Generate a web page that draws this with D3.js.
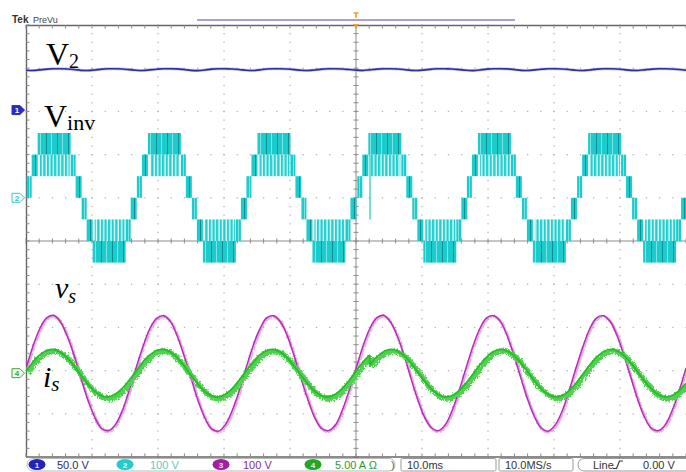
<!DOCTYPE html>
<html>
<head>
<meta charset="utf-8">
<script src="https://cdn.jsdelivr.net/npm/d3@7"></script>
<style>
  html, body { margin: 0; padding: 0; background: #fff; }
  svg { display: block; }
</style>
</head>
<body>
<svg id="scope" width="686" height="472"></svg>
<script>
// ---------------- acquisition settings ----------------
const timeWindowMs = [-50, 50];          // 10 ms/div, 10 divisions, trigger at centre
const sampleStepMs = 100 / 96;           // record interval of the analog traces

// channel settings: vertical scale (units/div) and position (div)
const channelIds     = ["1", "2", "3", "4"];
const channelScales  = [50, 100, 100, 5];
const channelOffsets = [3.03, 1.0, -3.06, -3.06];
const channelReadout = ["50.0 V", "100 V", "100 V", "5.00 A \u03A9"];

// ---------------- CH1: dc-link voltage V2 (V) ----------------
const v2Samples = [
  46.1, 45.8, 46.6, 47.4, 47.8, 47.8, 47.6, 47.0,
  46.0, 45.8, 46.5, 47.4, 47.8, 47.9, 47.6, 46.9,
  46.1, 45.9, 46.6, 47.3, 47.8, 47.8, 47.7, 47.0,
  46.0, 45.7, 46.5, 47.4, 47.9, 47.8, 47.6, 47.0,
  46.1, 45.8, 46.6, 47.5, 47.8, 47.8, 47.5, 46.9,
  46.1, 45.8, 46.5, 47.4, 47.8, 47.9, 47.6, 47.0,
  46.3, 45.9, 46.6, 47.4, 47.8, 47.8, 47.6, 47.0,
  46.0, 45.8, 46.6, 47.4, 47.9, 47.8, 47.6, 46.9,
  46.1, 45.7, 46.5, 47.4, 47.8, 47.8, 47.7, 47.0,
  46.0, 45.8, 46.6, 47.3, 47.8, 47.9, 47.6, 47.0,
  46.1, 45.8, 46.5, 47.4, 47.8, 47.8, 47.6, 46.9,
  46.0, 45.9, 46.6, 47.4, 47.8, 47.8, 47.6, 47.0,
  46.1
];

// ---------------- CH3: grid voltage vs (V) ----------------
const vsSamples = [
  11, 62, 103, 128, 134, 119, 86, 41, -12, -62, -102, -128, -133, -119, -87, -40,
  12, 61, 103, 127, 133, 120, 86, 40, -11, -62, -103, -129, -134, -119, -86, -41,
  12, 62, 102, 128, 133, 119, 87, 40, -12, -61, -103, -128, -133, -120, -86, -40,
  11, 62, 103, 128, 134, 119, 86, 41, -12, -62, -103, -127, -133, -119, -86, -40,
  12, 62, 103, 128, 133, 120, 86, 40, -12, -62, -102, -128, -134, -119, -87, -40,
  12, 61, 103, 128, 133, 119, 86, 40, -11, -62, -103, -128, -133, -119, -86, -41,
  12
];

// ---------------- CH4: grid current is (A) ----------------
// previous record (left part of the screen, up to the update point)
const isPrevious = [
  0.24, 1.27, 2.11, 2.62, 2.74, 2.44, 1.77, 0.83, -0.24, -1.27, -2.11, -2.62, -2.74, -2.44, -1.77, -0.83,
  0.22, 1.28, 2.10, 2.63, 2.76, 2.45, 1.76, 0.84, -0.25, -1.26, -2.12, -2.63, -2.75, -2.43, -1.78, -0.82,
  0.24, 1.26, 2.11, 2.61, 2.74, 2.44, 1.78, 0.83, -0.23, -1.27, -2.10, -2.62, -2.76, -2.44, -1.77, -0.84,
  0.24, 1.27, 2.11
];
// new record (from the update point to the right edge)
const isLatest = [
  0.94, 1.86, 2.49, 2.75, 2.58, 2.03, 1.16, 0.12, -0.94, -1.86, -2.49, -2.75, -2.58, -2.03, -1.16, -0.12,
  0.95, 1.85, 2.50, 2.76, 2.57, 2.04, 1.15, 0.13, -0.93, -1.87, -2.48, -2.74, -2.59, -2.02, -1.17, -0.11,
  0.94, 1.86, 2.49, 2.75, 2.58, 2.03, 1.16, 0.12, -0.94, -1.86, -2.49, -2.75, -2.58, -2.03, -1.16
];
const isUpdateIndex = 50;   // sample where the new record starts

// ---------------- CH2: 7-level inverter voltage Vinv (V) ----------------
// rising zero crossings of each fundamental cycle (ms)
const vinvCycleStarts = [-49.9, -33.2, -16.6, 0.2, 16.8, 33.5];
// switching bands within one cycle, times relative to the zero crossing (ms)
const vinvBandStart = [0.00, 0.76, 1.67, 1.97, 6.67, 7.42, 8.33, 9.09, 10.00, 10.30, 15.00, 15.76];
const vinvBandEnd   = [0.76, 1.67, 6.67, 6.52, 7.42, 8.33, 9.09, 10.00, 15.00, 14.85, 15.76, 16.67];
const vinvBandLow   = [0, 50, 100, 50, 50, 0, -50, -100, -150, -100, -100, -50];
const vinvBandHigh  = [50, 100, 150, 100, 100, 50, 0, -50, -100, -50, -50, 0];
const vinvBandKind  = ["pwm", "pwm", "pwm", "notch", "pwm", "pwm", "pwm", "pwm", "pwm", "notch", "pwm", "pwm"];
// single glitch pulse at the screen update point
const vinvSpikeTime = [2.12];
const vinvSpikeFrom = [100];
const vinvSpikeTo   = [-50];

// ---------------- drawing ----------------
const svg = d3.select("#scope");
const plot = { left: 26, right: 686, top: 25, bottom: 457 };

const x = d3.scaleLinear().domain(timeWindowMs).range([plot.left, plot.right]);
const yDiv = d3.scaleLinear().domain([-5, 5]).range([plot.bottom, plot.top]);
const yCh = (ch, v) => yDiv(channelOffsets[ch] + v / channelScales[ch]);
const tOf = i => timeWindowMs[0] + i * sampleStepMs;

const defs = svg.append("defs");
defs.append("clipPath").attr("id", "screen")
  .append("rect")
  .attr("x", plot.left).attr("y", plot.top)
  .attr("width", plot.right - plot.left).attr("height", plot.bottom - plot.top);

// fill textures for the switching bands
const pwm = defs.append("pattern").attr("id", "pwmFill")
  .attr("patternUnits", "userSpaceOnUse").attr("width", 11).attr("height", 10);
pwm.append("rect").attr("width", 11).attr("height", 10).attr("fill", "#1ccccc");
pwm.append("rect").attr("x", 2).attr("width", 1).attr("height", 10).attr("fill", "#0f8f96");
pwm.append("rect").attr("x", 7).attr("width", 0.7).attr("height", 10).attr("fill", "#a8ecec");

const notch = defs.append("pattern").attr("id", "notchFill")
  .attr("patternUnits", "userSpaceOnUse").attr("width", 3.6).attr("height", 10);
notch.append("rect").attr("width", 3.6).attr("height", 10).attr("fill", "#ffffff");
notch.append("rect").attr("width", 2.4).attr("height", 10).attr("fill", "#26cfcf");

// switching-ripple texture for the noisy analog traces
function rippleFilter(id, freq, scale, seed) {
  const f = defs.append("filter").attr("id", id)
    .attr("x", "-5%").attr("y", "-20%").attr("width", "110%").attr("height", "140%");
  f.append("feTurbulence").attr("type", "turbulence").attr("baseFrequency", freq)
    .attr("numOctaves", 1).attr("seed", seed).attr("result", "n");
  f.append("feDisplacementMap").attr("in", "SourceGraphic").attr("in2", "n")
    .attr("scale", scale).attr("xChannelSelector", "R").attr("yChannelSelector", "G");
}
rippleFilter("greenRipple", "0.9 0.35", 5, 3);
rippleFilter("magentaRipple", "0.9 0.35", 2.5, 7);

// ---- graticule ----
const grat = svg.append("g");
const minorT = d3.range(timeWindowMs[0], timeWindowMs[1] + 0.001, 2);
const minorD = d3.range(-5, 5.001, 0.2);
const majorT = d3.range(-40, 41, 10).filter(d => d !== 0);
const majorD = d3.range(-4, 5, 1).filter(d => d !== 0);

majorT.forEach(t => {
  grat.selectAll(null).data(minorD).join("rect")
    .attr("x", x(t) - 0.6).attr("y", d => yDiv(d) - 0.6)
    .attr("width", 1.3).attr("height", 1.3).attr("fill", "#b4b4b4");
});
majorD.forEach(dv => {
  grat.selectAll(null).data(minorT).join("rect")
    .attr("x", t => x(t) - 0.6).attr("y", yDiv(dv) - 0.6)
    .attr("width", 1.3).attr("height", 1.3).attr("fill", "#b4b4b4");
});

// centre cross with minor ticks
grat.append("line").attr("x1", plot.left).attr("x2", plot.right)
  .attr("y1", yDiv(0)).attr("y2", yDiv(0)).attr("stroke", "#8c8c8c");
grat.append("line").attr("x1", x(0)).attr("x2", x(0))
  .attr("y1", plot.top).attr("y2", plot.bottom).attr("stroke", "#8c8c8c");
grat.selectAll(null).data(minorT).join("line")
  .attr("x1", x).attr("x2", x)
  .attr("y1", yDiv(0) - 2.5).attr("y2", yDiv(0) + 2.5).attr("stroke", "#8c8c8c");
grat.selectAll(null).data(minorD).join("line")
  .attr("y1", yDiv).attr("y2", yDiv)
  .attr("x1", x(0) - 2.5).attr("x2", x(0) + 2.5).attr("stroke", "#8c8c8c");

// frame with edge ticks
grat.append("line").attr("x1", plot.left).attr("x2", plot.right)
  .attr("y1", plot.top + 0.5).attr("y2", plot.top + 0.5).attr("stroke", "#666").attr("stroke-width", 1.4);
grat.append("line").attr("x1", plot.left).attr("x2", plot.right)
  .attr("y1", plot.bottom).attr("y2", plot.bottom).attr("stroke", "#666").attr("stroke-width", 1.6);
grat.append("line").attr("x1", plot.left + 0.5).attr("x2", plot.left + 0.5)
  .attr("y1", plot.top).attr("y2", plot.bottom).attr("stroke", "#666").attr("stroke-width", 1.4);
grat.selectAll(null).data(minorT).join("line")
  .attr("x1", x).attr("x2", x)
  .attr("y1", plot.top).attr("y2", plot.top + 3.5).attr("stroke", "#888");
grat.selectAll(null).data(minorT).join("line")
  .attr("x1", x).attr("x2", x)
  .attr("y1", plot.bottom).attr("y2", plot.bottom - 3.5).attr("stroke", "#888");
grat.selectAll(null).data(minorD).join("line")
  .attr("y1", yDiv).attr("y2", yDiv)
  .attr("x1", plot.left).attr("x2", plot.left + 3.5).attr("stroke", "#888");

// ---- traces ----
const traces = svg.append("g").attr("clip-path", "url(#screen)");

// CH2 Vinv switching bands
const vinvRects = [];
vinvCycleStarts.forEach(c => {
  vinvBandStart.forEach((s, i) => {
    vinvRects.push({ t0: c + s, t1: c + vinvBandEnd[i], lo: vinvBandLow[i], hi: vinvBandHigh[i], kind: vinvBandKind[i] });
  });
});
vinvRects.sort((a, b) => (a.kind === "notch" ? 0 : 1) - (b.kind === "notch" ? 0 : 1));
traces.append("g").selectAll("rect").data(vinvRects).join("rect")
  .attr("x", d => x(d.t0))
  .attr("width", d => x(d.t1) - x(d.t0))
  .attr("y", d => yCh(1, d.hi))
  .attr("height", d => yCh(1, d.lo) - yCh(1, d.hi))
  .attr("fill", d => d.kind === "notch" ? "url(#notchFill)" : "url(#pwmFill)");
traces.append("g").selectAll("line").data(vinvSpikeTime).join("line")
  .attr("x1", d => x(d)).attr("x2", d => x(d))
  .attr("y1", (d, i) => yCh(1, vinvSpikeFrom[i]))
  .attr("y2", (d, i) => yCh(1, vinvSpikeTo[i]))
  .attr("stroke", "#1fc8c8").attr("stroke-width", 1.2);

// CH1 V2
const v2Line = d3.line().x((d, i) => x(tOf(i))).y(d => yCh(0, d)).curve(d3.curveMonotoneX);
traces.append("path").datum(v2Samples).attr("d", v2Line)
  .attr("fill", "none").attr("stroke", "#8c8cd8").attr("stroke-width", 3).attr("opacity", 0.5);
traces.append("path").datum(v2Samples).attr("d", v2Line)
  .attr("fill", "none").attr("stroke", "#2f2fa0").attr("stroke-width", 1.6);

// CH3 vs
const vsLine = d3.line().x((d, i) => x(tOf(i))).y(d => yCh(2, d)).curve(d3.curveCatmullRom);
traces.append("path").datum(vsSamples).attr("d", vsLine)
  .attr("fill", "none").attr("stroke", "#d868d8").attr("stroke-width", 3).attr("opacity", 0.55)
  .attr("filter", "url(#magentaRipple)");
traces.append("path").datum(vsSamples).attr("d", vsLine)
  .attr("fill", "none").attr("stroke", "#b02cb0").attr("stroke-width", 1.4);

// CH4 is: previous and latest records, joined by the jump at the update point
const isPrevPts = isPrevious.map((v, i) => [tOf(i), v]);
const isLatestPts = isLatest.map((v, i) => [tOf(isUpdateIndex + i), v]);
const isJump = [isPrevPts[isPrevPts.length - 1], isLatestPts[0]];
const isLine = d3.line().x(d => x(d[0])).y(d => yCh(3, d[1])).curve(d3.curveCatmullRom);
const isHalo = traces.append("g").attr("filter", "url(#greenRipple)");
[isPrevPts, isLatestPts, isJump].forEach(pts => {
  isHalo.append("path").datum(pts).attr("d", isLine)
    .attr("fill", "none").attr("stroke", "#4fd24f").attr("stroke-width", 5.5);
});
const isCore = traces.append("g");
[isPrevPts, isLatestPts, isJump].forEach(pts => {
  isCore.append("path").datum(pts).attr("d", isLine)
    .attr("fill", "none").attr("stroke", "#2aba2a").attr("stroke-width", 1.8);
});

// ---- channel position markers ----
const markerData = [
  { ch: 0, fill: "#2a2ac4", stroke: "#2a2ac4", text: "1", tc: "#fff" },
  { ch: 1, fill: "#eefafa", stroke: "#3cc8c8", text: "2", tc: "#3cc8c8" },
  { ch: 3, fill: "#eef8ee", stroke: "#38a838", text: "4", tc: "#38a838" }
];
const mk = svg.append("g").selectAll("g").data(markerData).join("g")
  .attr("transform", d => `translate(0,${yDiv(channelOffsets[d.ch])})`);
mk.append("path").attr("d", "M12,-4.5H20L24.5,0L20,4.5H12Z")
  .attr("fill", d => d.fill).attr("stroke", d => d.stroke).attr("stroke-width", 1);
mk.append("text").attr("x", 17).attr("y", 3).attr("text-anchor", "middle")
  .attr("font-family", "Liberation Sans, Arial, sans-serif").attr("font-size", 8).attr("font-weight", "bold")
  .attr("fill", d => d.tc).text(d => d.text);

// ---- header ----
svg.append("text").attr("x", 12).attr("y", 23)
  .attr("font-family", "Liberation Sans, Arial, sans-serif").attr("font-size", 10).attr("font-weight", "bold")
  .attr("fill", "#333").text("Tek");
svg.append("text").attr("x", 33).attr("y", 23)
  .attr("font-family", "Liberation Sans, Arial, sans-serif").attr("font-size", 9)
  .attr("fill", "#444").text("PreVu");
svg.append("line").attr("x1", 197).attr("x2", 515).attr("y1", 20).attr("y2", 20)
  .attr("stroke", "#aaa0d2").attr("stroke-width", 2);
svg.append("path").attr("d", `M${x(0) - 2.5},13H${x(0) + 2.5}M${x(0)},13V18`)
  .attr("stroke", "#f0a020").attr("stroke-width", 1.6).attr("fill", "none");
svg.append("path").attr("d", `M${x(0) - 3},${plot.top - 1}L${x(0) + 3},${plot.top - 1}L${x(0)},${plot.top + 3}Z`)
  .attr("fill", "#f0a020");

// ---- signal names ----
const serif = "Liberation Serif, 'Times New Roman', serif";
function label(xp, yp, main, sub, size, subSize, dy, italic) {
  const t = svg.append("text").attr("x", xp).attr("y", yp)
    .attr("font-family", serif).attr("font-size", size).attr("fill", "#000")
    .attr("font-style", italic ? "italic" : "normal");
  t.append("tspan").text(main);
  t.append("tspan").attr("font-size", subSize).attr("dy", dy).text(sub);
}
label(46, 65, "V", "2", 32, 20, 3, false);
label(44, 127, "V", "inv", 32, 22, 3, false);
label(55, 298, "v", "s", 30, 20, 5, true);
label(43, 387, "i", "s", 30, 21, 4, true);

// ---- status bar ----
const bar = svg.append("g").attr("font-family", "Liberation Sans, Arial, sans-serif").attr("font-size", 11);
bar.append("rect").attr("x", 27).attr("y", 458.5).attr("width", 368).attr("height", 12.5).attr("rx", 6)
  .attr("fill", "none").attr("stroke", "#b8b8b8");
const badgeX = [37, 125, 221, 313];
const readX = [57, 150, 243, 335];
const badgeFill = ["#2323b8", "#22cccc", "#a020a0", "#22a822"];
const readFill = ["#2a2a70", "#5ccaca", "#8a2a8a", "#2a9a2a"];
channelIds.forEach((id, i) => {
  bar.append("ellipse").attr("cx", badgeX[i]).attr("cy", 464.5).attr("rx", 8.5).attr("ry", 5.5)
    .attr("fill", badgeFill[i]);
  bar.append("text").attr("x", badgeX[i]).attr("y", 467.5).attr("text-anchor", "middle")
    .attr("font-size", 8).attr("font-weight", "bold").attr("fill", i === 1 ? "#fff" : "#e8e8ff").text(id);
  bar.append("text").attr("x", readX[i]).attr("y", 468.5).attr("fill", readFill[i]).text(channelReadout[i]);
});
bar.append("text").attr("x", 391).attr("y", 468.5).attr("fill", "#666").text(")");
bar.append("rect").attr("x", 401).attr("y", 458.5).attr("width", 95).attr("height", 12.5).attr("rx", 1.5)
  .attr("fill", "none").attr("stroke", "#999");
bar.append("text").attr("x", 407).attr("y", 468.5).attr("fill", "#333").text("10.0ms");
bar.append("rect").attr("x", 499).attr("y", 458.5).attr("width", 74).attr("height", 12.5).attr("rx", 1.5)
  .attr("fill", "none").attr("stroke", "#999");
bar.append("text").attr("x", 505).attr("y", 468.5).attr("fill", "#333").text("10.0MS/s");
bar.append("rect").attr("x", 578).attr("y", 458.5).attr("width", 120).attr("height", 12.5).attr("rx", 6)
  .attr("fill", "none").attr("stroke", "#999");
bar.append("text").attr("x", 593).attr("y", 468.5).attr("fill", "#333").text("Line");
bar.append("path").attr("d", "M613,468.5H616.5L619.5,461H623").attr("fill", "none").attr("stroke", "#333").attr("stroke-width", 1.2);
bar.append("text").attr("x", 643).attr("y", 468.5).attr("fill", "#333").text("0.00 V");
</script>
</body>
</html>
